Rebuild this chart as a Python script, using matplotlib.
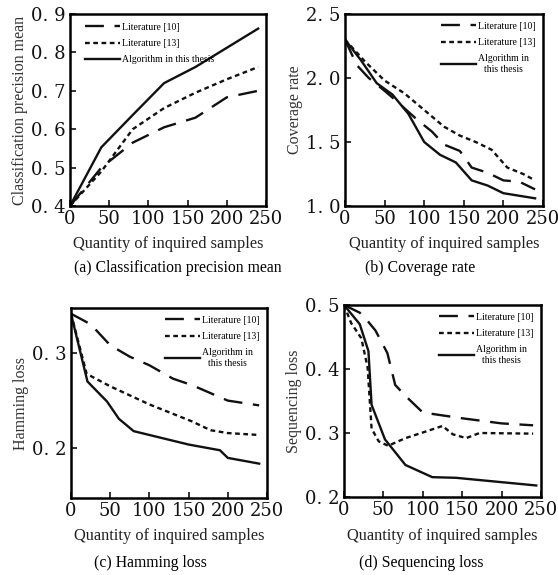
import matplotlib
matplotlib.use("Agg")
import matplotlib.pyplot as plt
from matplotlib.ticker import FuncFormatter

# ---------------- data ----------------
# (a) Classification precision mean
a_x10 = [0, 40, 80, 120, 160, 200, 240]
a_y10 = [0.40, 0.50, 0.565, 0.605, 0.630, 0.683, 0.700]
a_x13 = [0, 40, 80, 120, 160, 200, 240]
a_y13 = [0.40, 0.49, 0.600, 0.655, 0.695, 0.730, 0.762]
a_xal = [0, 40, 80, 120, 160, 200, 240]
a_yal = [0.40, 0.553, 0.637, 0.720, 0.762, 0.812, 0.862]

# (b) Coverage rate
b_x10 = [0, 15, 30, 50, 65, 90, 110, 125, 145, 160, 180, 200, 220, 240]
b_y10 = [2.30, 2.10, 2.00, 1.90, 1.82, 1.68, 1.58, 1.48, 1.43, 1.30, 1.26, 1.20, 1.19, 1.13]
b_x13 = [0, 25, 50, 75, 100, 125, 145, 165, 185, 205, 225, 240]
b_y13 = [2.30, 2.13, 1.98, 1.88, 1.75, 1.62, 1.55, 1.50, 1.44, 1.30, 1.25, 1.20]
b_xal = [0, 20, 40, 60, 80, 100, 120, 140, 160, 180, 200, 240]
b_yal = [2.30, 2.14, 1.96, 1.87, 1.72, 1.50, 1.40, 1.34, 1.20, 1.16, 1.10, 1.06]

# (c) Hamming loss
c_x10 = [0, 25, 50, 75, 100, 130, 155, 200, 240]
c_y10 = [0.341, 0.330, 0.308, 0.296, 0.287, 0.273, 0.266, 0.250, 0.245]
c_x13 = [0, 20, 50, 100, 155, 178, 200, 240]
c_y13 = [0.341, 0.278, 0.265, 0.246, 0.228, 0.219, 0.216, 0.214]
c_xal = [0, 21, 46, 61, 80, 120, 150, 190, 200, 240]
c_yal = [0.341, 0.270, 0.249, 0.231, 0.218, 0.210, 0.204, 0.198, 0.190, 0.184]

# (d) Sequencing loss
d_x10 = [0, 20, 30, 40, 55, 65, 78, 100, 150, 200, 240]
d_y10 = [0.50, 0.488, 0.475, 0.460, 0.425, 0.375, 0.358, 0.332, 0.323, 0.315, 0.312]
d_x13 = [0, 9, 22, 30, 35, 44, 56, 78, 103, 125, 138, 155, 172, 240]
d_y13 = [0.50, 0.472, 0.448, 0.402, 0.307, 0.287, 0.280, 0.292, 0.302, 0.311, 0.298, 0.292, 0.300, 0.299]
d_xal = [0, 20, 31, 35, 52, 78, 112, 142, 193, 244]
d_yal = [0.50, 0.470, 0.428, 0.344, 0.290, 0.250, 0.231, 0.230, 0.224, 0.218]

legend_labels = ["Literature [10]", "Literature [13]", "Algorithm in this thesis"]
xlabel = "Quantity of inquired samples"
ylabels = ["Classification precision mean", "Coverage rate", "Hamming loss", "Sequencing loss"]
captions = ["(a) Classification precision mean", "(b) Coverage rate",
            "(c) Hamming loss", "(d) Sequencing loss"]
xticks = [0, 50, 100, 150, 200, 250]
yticks_list = [[0.4, 0.5, 0.6, 0.7, 0.8, 0.9], [1.0, 1.5, 2.0, 2.5],
               [0.2, 0.3], [0.2, 0.3, 0.4, 0.5]]
ylims = [(0.4, 0.9), (1.0, 2.5), (0.148, 0.347), (0.2, 0.5)]

# ---------------- figure ----------------
fig = plt.figure(figsize=(5.58, 5.75), dpi=100)
positions = [
    [70/558, 1-206/575, 196/558, 192/575],
    [345/558, 1-206/575, 198/558, 192/575],
    [71/558, 1-498/575, 196/558, 190/575],
    [344/558, 1-497/575, 197/558, 192/575],
]
data = [
    (a_x10, a_y10, a_x13, a_y13, a_xal, a_yal),
    (b_x10, b_y10, b_x13, b_y13, b_xal, b_yal),
    (c_x10, c_y10, c_x13, c_y13, c_xal, c_yal),
    (d_x10, d_y10, d_x13, d_y13, d_xal, d_yal),
]
serif_tick = "DejaVu Serif"
serif_text = "Liberation Serif"
col = "#111111"

def fmt(v, pos):
    s = "%.1f" % v
    return s.replace(".", ". ")

for i, (pos, d) in enumerate(zip(positions, data)):
    ax = fig.add_axes(pos)
    x10, y10, x13, y13, xal, yal = d
    ax.plot(x10, y10, color=col, lw=1.7, dashes=(8, 4.5), label=legend_labels[0])
    ax.plot(x13, y13, color=col, lw=1.7, dashes=(2, 1.5), label=legend_labels[1])
    lab = legend_labels[2] if i == 0 else "Algorithm in\nthis thesis"
    ax.plot(xal, yal, color=col, lw=1.7, label=lab)
    ax.set_xlim(0, 250)
    ax.set_ylim(*ylims[i])
    ax.set_xticks(xticks)
    ax.set_yticks(yticks_list[i])
    ax.yaxis.set_major_formatter(FuncFormatter(fmt))
    ax.tick_params(direction="in", length=4, width=1.2, labelsize=13, pad=3,
                   top=False, right=False, colors="#111111")
    for lbl in ax.get_xticklabels() + ax.get_yticklabels():
        lbl.set_family(serif_tick)
    for sp in ax.spines.values():
        sp.set_linewidth(1.8)
    ax.set_xlabel(xlabel, family=serif_text, fontsize=11.8, labelpad=6, color="#222222")
    ax.set_ylabel(ylabels[i], family=serif_text, fontsize=11.5, labelpad=2, color="#333333")
    leg_kw = dict(frameon=False, prop={"family": serif_text, "size": 7},
                  handletextpad=0.2, labelspacing=0.75, handlelength=3.6)
    if i == 0:
        leg = ax.legend(loc="upper left", borderaxespad=0.5,
                        bbox_to_anchor=(0.03, 1.0), **leg_kw)
    else:
        leg = ax.legend(loc="upper right", borderaxespad=0.4, **leg_kw)
        for t in leg.get_texts():
            t.set_ha("center")

cap_pos = [(178/558, 1-268/575), (420/558, 1-268/575),
           (150/558, 1-563/575), (421/558, 1-563/575)]
for c, (cx, cy) in zip(captions, cap_pos):
    fig.text(cx, cy, c, ha="center", va="center", family=serif_text, fontsize=11.3)

fig.savefig("out.png", dpi=100)
